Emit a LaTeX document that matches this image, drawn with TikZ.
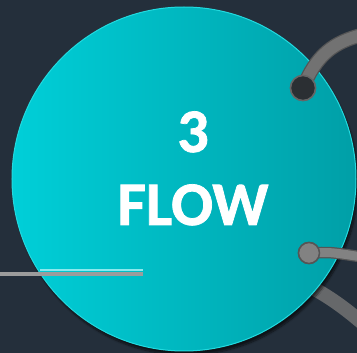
\documentclass[tikz,border=0pt]{standalone}
\usepackage{fontspec}
\newfontfamily\hubfont{Carlito}[BoldFeatures={FakeBold=1.2}]
\usetikzlibrary{shadows.blur}
\definecolor{bgdark}{HTML}{242F3B}
\definecolor{hubleft}{HTML}{00CFD8}
\definecolor{hubright}{HTML}{009FA7}
\definecolor{hubrim}{HTML}{22DADF}
\definecolor{wiregrey}{HTML}{727272}
\definecolor{wireedge}{HTML}{555555}
\definecolor{dotdark}{HTML}{2B2F33}
\definecolor{dotgrey}{HTML}{828282}
\definecolor{railgrey}{HTML}{9C9C9C}

\begin{document}
\begin{tikzpicture}[x=1pt,y=-1pt,
  hub/.style={circle,inner sep=0pt,minimum size=344pt,left color=hubleft,right color=hubright,draw=hubrim,line width=1pt,
    blur shadow={shadow xshift=2pt,shadow yshift=-4pt,shadow opacity=60,shadow blur steps=12}},
  hubtext/.style={text=white,font=\hubfont\bfseries\fontsize{62}{62}\selectfont,inner sep=0pt,anchor=base},
  wire/.style={line width=12pt,draw=wiregrey,line cap=round},
  wirerim/.style={line width=14.5pt,draw=wireedge,line cap=round},
  portdot/.style={circle,inner sep=0pt,line width=1.5pt}]
\fill[bgdark] (0,0) rectangle (357,353);
\useasboundingbox (0,0) rectangle (357,353);
\coordinate (loopa) at (292,278);
\coordinate (loopb) at (368,328);
\draw[line width=14pt,draw=wiregrey!85!bgdark] (loopa) .. controls (320,290) and (342,305) .. (loopb);
\node[hub] (hub) at (184,179) {};
\node[hubtext] (num) at (193,152) {3};
\node[hubtext] (word) at (193,225) {FLOW};
\coordinate (raila) at (0,274);
\coordinate (railb) at (143,274);
\draw[line width=4pt,railgrey] (raila) -- (railb);
\draw[line width=2pt,white!55!hubleft] ([xshift=40pt,yshift=3.5pt]raila) -- ([yshift=3.5pt]railb);
\coordinate (topend) at (362,35);
\coordinate (lowend) at (362,257);
\node[portdot,minimum size=25pt,fill=dotdark,draw=wireedge!90!white] (topdot) at (303,88) {};
\node[portdot,minimum size=21pt,fill=dotgrey,draw=wireedge] (lowdot) at (309,253) {};
\draw[wirerim] (topdot.center) .. controls (316,55) and (334,42) .. (topend);
\draw[wire] (topdot.center) .. controls (316,55) and (334,42) .. (topend);
\draw[line width=11.5pt,draw=wireedge] (lowdot.center) .. controls (330,252) .. (lowend);
\draw[line width=9pt,draw=dotgrey] (lowdot.center) .. controls (330,252) .. (lowend);
\node[portdot,minimum size=25pt,fill=dotdark,draw=wireedge!90!white] at (topdot) {};
\node[portdot,minimum size=21pt,fill=dotgrey,draw=wireedge] at (lowdot) {};
\end{tikzpicture}
\end{document}
